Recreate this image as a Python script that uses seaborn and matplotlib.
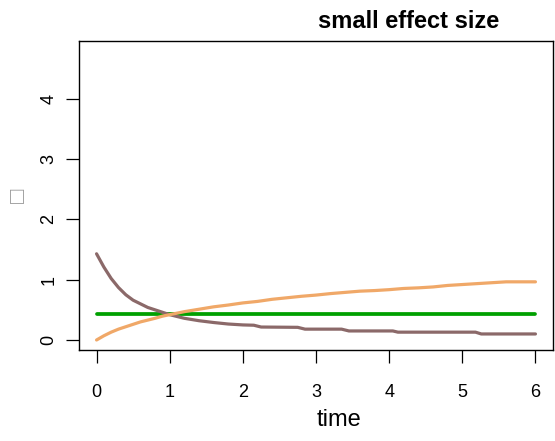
import matplotlib
matplotlib.use("Agg")
import matplotlib.pyplot as plt
import numpy as np
import pandas as pd
import seaborn as sns

# --- data ---------------------------------------------------------------
time_up = [0.0, 0.1, 0.2, 0.3, 0.4, 0.5, 0.6, 0.7, 0.8, 0.9, 1.0, 1.2, 1.4,
           1.6, 1.8, 2.0, 2.2, 2.4, 2.6, 2.8, 3.0, 3.2, 3.4, 3.6, 3.8, 4.0,
           4.2, 4.4, 4.6, 4.8, 5.0, 5.2, 5.4, 5.6, 5.8, 6.0]
rising = [0.0, 0.07, 0.13, 0.18, 0.22, 0.26, 0.30, 0.33, 0.36, 0.395, 0.42,
          0.47, 0.51, 0.55, 0.58, 0.615, 0.64, 0.675, 0.70, 0.725, 0.745,
          0.77, 0.79, 0.81, 0.82, 0.835, 0.855, 0.865, 0.88, 0.905, 0.92,
          0.935, 0.95, 0.965, 0.965, 0.965]

time_down = [0.0, 0.1, 0.2, 0.3, 0.4, 0.5, 0.6, 0.7, 0.8, 0.9, 1.0, 1.2, 1.4,
             1.6, 1.8, 2.0, 2.15, 2.25, 2.75, 2.85, 3.35, 3.45, 4.05, 4.12,
             5.18, 5.26, 6.0]
falling = [1.43, 1.21, 1.02, 0.87, 0.75, 0.66, 0.60, 0.54, 0.50, 0.46, 0.42,
           0.36, 0.32, 0.29, 0.265, 0.25, 0.245, 0.215, 0.21, 0.18, 0.18,
           0.15, 0.15, 0.13, 0.13, 0.10, 0.10]

time_flat = [0.0, 6.0]
constant = [0.43, 0.43]

x_ticks = [0, 1, 2, 3, 4, 5, 6]
y_ticks = [0, 1, 2, 3, 4]

# --- styling ------------------------------------------------------------
sns.set_theme(style="ticks")
plt.rcParams["font.family"] = ["Liberation Sans", "DejaVu Sans"]
plt.rcParams.update({
    "text.color": "black",
    "axes.labelcolor": "black",
    "axes.edgecolor": "black",
    "xtick.color": "black",
    "ytick.color": "black",
    "xtick.labelcolor": "black",
    "ytick.labelcolor": "black",
    "axes.linewidth": 1.0,
})

fig = plt.figure(figsize=(5.55, 4.41), dpi=100)
ax = fig.add_axes([79 / 555, 91 / 441, 474 / 555, 309 / 441])

flat_df = pd.DataFrame({"time": time_flat, "value": constant})
down_df = pd.DataFrame({"time": time_down, "value": falling})
up_df = pd.DataFrame({"time": time_up, "value": rising})

sns.lineplot(data=flat_df, x="time", y="value", ax=ax, color="#00A000",
             lw=2.7, estimator=None, sort=False)
sns.lineplot(data=down_df, x="time", y="value", ax=ax, color="#8B6969",
             lw=2.3, estimator=None, sort=False)
sns.lineplot(data=up_df, x="time", y="value", ax=ax, color="#F0A868",
             lw=2.3, estimator=None, sort=False)

ax.set_xlim(-0.24, 6.24)
ax.set_ylim(-0.166, 4.96)
ax.set_xticks(x_ticks)
ax.set_yticks(y_ticks)
ax.set_xticklabels([str(v) for v in x_ticks], fontsize=13)
ax.set_yticklabels([str(v) for v in y_ticks], fontsize=13, rotation=90,
                   va="center")
ax.tick_params(axis="both", direction="out", length=9.4, width=0.9,
               color="black", labelcolor="black")
ax.tick_params(axis="x", pad=15)
ax.tick_params(axis="y", pad=6)

for side in ["left", "right", "top", "bottom"]:
    ax.spines[side].set_visible(True)
    ax.spines[side].set_color("black")
    ax.spines[side].set_linewidth(1.0)

ax.set_xlabel("time", fontsize=17, color="black")
ax.xaxis.set_label_coords((339 - 79) / 474, (350 - 420) / 309)
ax.xaxis.label.set_va("center")

ax.set_ylabel("\u25a1", fontsize=17, color="#9a9a9a")
ax.yaxis.set_label_coords((18.5 - 79) / 474, 0.5)
ax.yaxis.label.set_va("center")
ax.yaxis.label.set_ha("center")

ax.set_title("small effect size", fontsize=17, fontweight="bold",
             color="black", x=(409 - 79) / 474, y=(350 - 22) / 309,
             va="center", pad=0)

fig.savefig("out.png", dpi=100)
